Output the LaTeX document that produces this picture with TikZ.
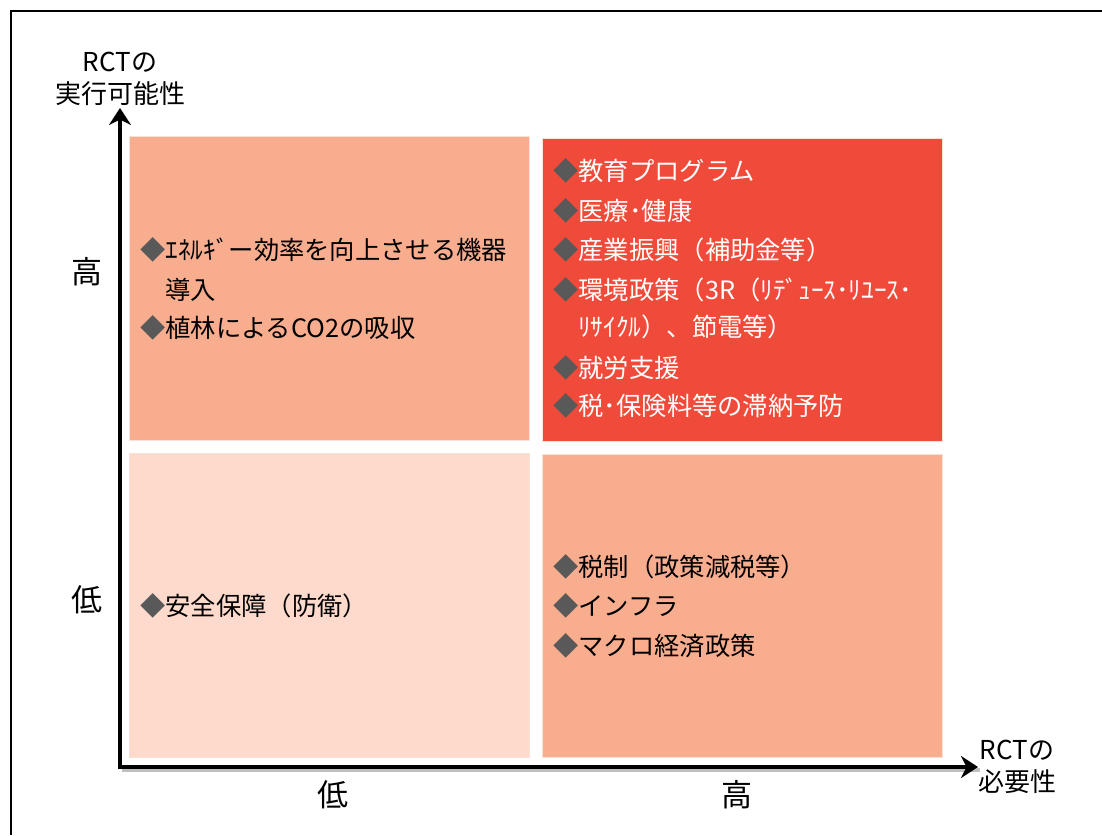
\documentclass[tikz,border=0pt]{standalone}
\usepackage{fontspec}
\setmainfont{Noto Sans CJK JP}
\usetikzlibrary{arrows.meta}
\definecolor{salmon}{HTML}{F9AD8F}
\definecolor{hired}{HTML}{F04B3A}
\definecolor{pale}{HTML}{FDDACB}
\definecolor{edgec}{HTML}{F6E2D6}
\definecolor{dia}{HTML}{595959}
\newcommand{\dm}{\textcolor{dia}{◆}}
\begin{document}
\begin{tikzpicture}[x=1pt,y=-1pt,
  quad/.style={draw=edgec, line width=1pt, minimum width=400pt, minimum height=304pt, inner sep=0pt},
  item/.style={anchor=west, inner sep=0pt, font=\fontsize{25.3}{30}\selectfont},
  tick/.style={inner sep=0pt, font=\fontsize{31}{36}\selectfont},
  axlabel/.style={inner sep=0pt, align=center, font=\fontsize{26}{32}\selectfont},
  axis/.style={line width=4pt, line join=miter, {Stealth[length=17pt,width=22pt]}-{Stealth[length=17pt,width=22pt]}},
  shadowax/.style={line width=4pt, draw=black!25, line join=miter},
]
\useasboundingbox (0,0) rectangle (1102,835);
% frame
\draw[line width=2pt] (11,835) -- (11,11) -- (1102,11);

% quadrants
\node[quad, fill=salmon] (tl) at (329,288) {};
\node[quad, fill=hired, minimum height=303pt] (tr) at (742,289.5) {};
\node[quad, fill=pale] (bl) at (329,605) {};
\node[quad, fill=salmon, minimum height=303pt] (br) at (742,605.5) {};

% axes
\coordinate (o) at (120,767);
\coordinate (ytip) at (120,108);
\coordinate (xtip) at (978,767);
\draw[shadowax] ([shift={(2,2.5)}]o) -- ([shift={(2,2.5)}]xtip);
\draw[axis] (ytip) -- (o) -- (xtip);

% axis labels
\node[axlabel] (ylab) at (120,79) {RCTの\\実行可能性};
\node[axlabel] (xlab) at (1017,767) {RCTの\\必要性};
\node[tick] (yhi) at (87,272) {高};
\node[tick] (ylo) at (87,600) {低};
\node[tick] (xlo) at (333,795) {低};
\node[tick] (xhi) at (737,795) {高};

% top-left items
\node[item] (tl1) at (140,250) {\dm ｴﾈﾙｷﾞー効率を向上させる機器};
\node[item] (tl1b) at (165,290) {導入};
\node[item] (tl2) at (140,328) {\dm 植林によるCO2の吸収};

% top-right items
\begin{scope}[every node/.append style={text=white}]
\node[item] (tr1) at (553,171) {\dm 教育プログラム};
\node[item] (tr2) at (553,211) {\dm 医療･健康};
\node[item] (tr3) at (553,250) {\dm 産業振興（補助金等）};
\node[item] (tr4) at (553,290) {\dm 環境政策（3R（ﾘﾃﾞｭｰｽ･ﾘﾕｰｽ･};
\node[item] (tr4b) at (578,327) {ﾘｻｲｸﾙ）、節電等）};
\node[item] (tr5) at (553,368) {\dm 就労支援};
\node[item] (tr6) at (553,406) {\dm 税･保険料等の滞納予防};
\end{scope}

% bottom-left
\node[item] (bl1) at (140,606) {\dm 安全保障（防衛）};

% bottom-right
\node[item] (br1) at (553,567) {\dm 税制（政策減税等）};
\node[item] (br2) at (553,606) {\dm インフラ};
\node[item] (br3) at (553,646) {\dm マクロ経済政策};
\end{tikzpicture}
\end{document}
